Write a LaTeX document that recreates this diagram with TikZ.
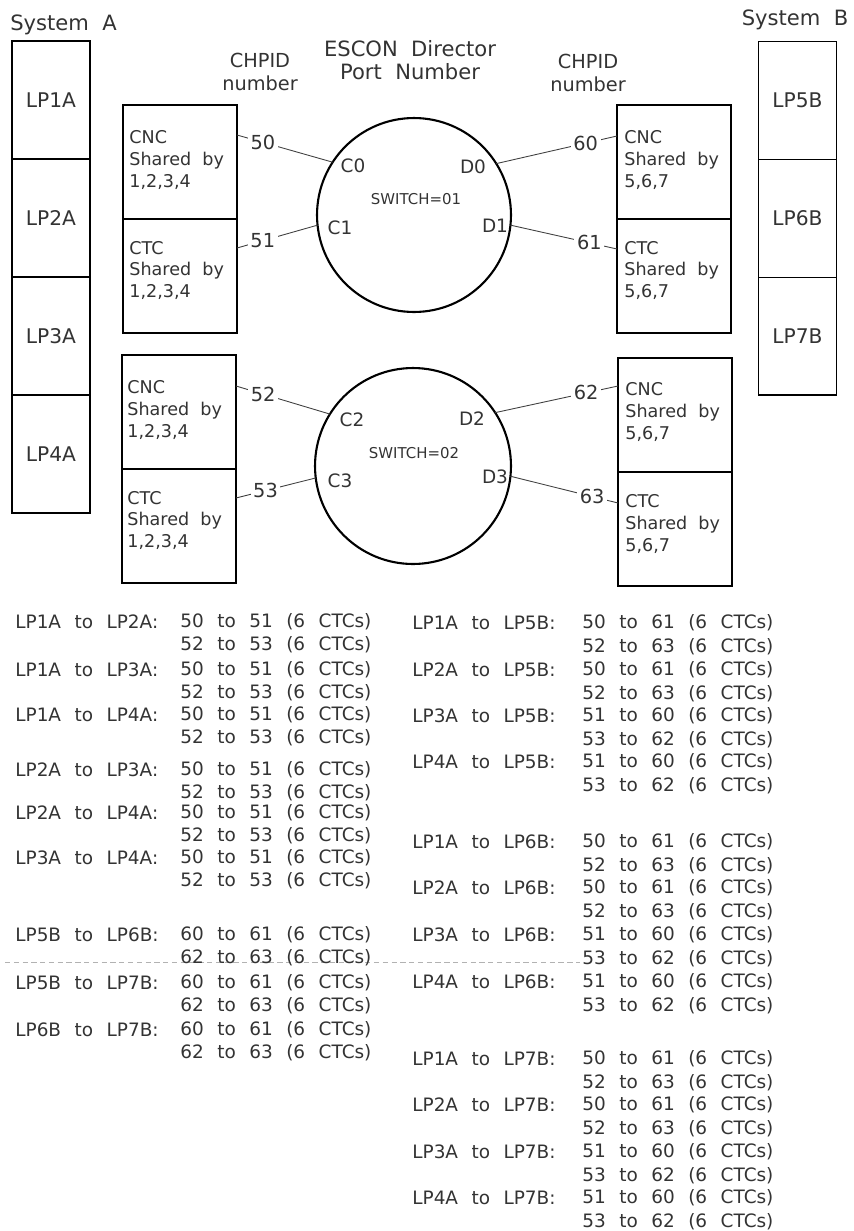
\documentclass[tikz,border=0pt]{standalone}
\usepackage{fontspec}
\setmainfont{DejaVu Sans}[WordSpace=2]
\newfontfamily\listfont{DejaVu Sans}[WordSpace=2.3]
\usetikzlibrary{positioning}

\begin{document}
\begin{tikzpicture}[x=0.02cm, y=-0.02cm,
    every node/.style={text=black!80},
    lpbox/.style={draw=black, line width=1.1pt, minimum width=1.56cm, minimum height=2.36cm, inner sep=0pt, outer sep=0pt, font=\fontsize{11.5}{13}\selectfont},
    chbox/.style={draw=black, line width=1.1pt, minimum width=2.28cm, minimum height=2.28cm, inner sep=0pt, outer sep=0pt},
    boxtxt/.style={align=left, inner sep=0pt, font=\fontsize{10}{12.5}\selectfont},
    hdr/.style={align=center, inner sep=0pt, font=\fontsize{11}{13.5}\selectfont},
    port/.style={inner sep=0pt, font=\fontsize{10.5}{12}\selectfont},
    chpid/.style={fill=white, inner sep=1.5pt, font=\fontsize{11}{12}\selectfont},
    swlbl/.style={inner sep=0pt, font=\fontsize{8.5}{10}\selectfont},
    sw/.style={draw=black, circle, line width=1.2pt, inner sep=0pt, outer sep=0pt},
    link/.style={line width=0.5pt, black!75},
    lst/.style={anchor=west, inner sep=0pt, font=\listfont\fontsize{10.5}{12}\selectfont}
  ]
  \useasboundingbox (0,0) rectangle (853,1231);

  % System A and its partitions
  \node[hdr, anchor=west, font=\fontsize{12}{13}\selectfont] (sysA) at (10,25) {System A};
  \node[lpbox] (LP1A) at (51,100) {LP1A};
  \node[lpbox, below=0pt of LP1A] (LP2A) {LP2A};
  \node[lpbox, below=0pt of LP2A] (LP3A) {LP3A};
  \node[lpbox, below=0pt of LP3A] (LP4A) {LP4A};

  % System B and its partitions
  \node[hdr, font=\fontsize{12}{13}\selectfont] (sysB) at (795,20) {System B};
  \node[lpbox] (LP5B) at (797.5,100.5) {LP5B};
  \node[lpbox, below=0pt of LP5B] (LP6B) {LP6B};
  \node[lpbox, below=0pt of LP6B] (LP7B) {LP7B};

  % column headings
  \node[hdr] (chA) at (260,72) {CHPID\\number};
  \node[hdr, font=\fontsize{12}{13.5}\selectfont] (escon) at (410,60) {ESCON Director\\Port Number};
  \node[hdr] (chB) at (588,73) {CHPID\\number};

  % CHPID boxes, side A
  \node[chbox] (cncA1) at (180,162) {};
  \node[chbox, below=0pt of cncA1] (ctcA1) {};
  \node[chbox] (cncA2) at (179,412) {};
  \node[chbox, below=0pt of cncA2] (ctcA2) {};
  \node[boxtxt, right=0.12cm of cncA1.west, yshift=0.04cm] (tcncA1) {CNC\\Shared by\\1,2,3,4};
  \node[boxtxt, right=0.12cm of ctcA1.west, yshift=0.11cm] (tctcA1) {CTC\\Shared by\\1,2,3,4};
  \node[boxtxt, right=0.1cm of cncA2.west, yshift=0.04cm] (tcncA2) {CNC\\Shared by\\1,2,3,4};
  \node[boxtxt, right=0.1cm of ctcA2.west, yshift=0.11cm] (tctcA2) {CTC\\Shared by\\1,2,3,4};

  % CHPID boxes, side B
  \node[chbox] (cncB1) at (674,162) {};
  \node[chbox, below=0pt of cncB1] (ctcB1) {};
  \node[chbox] (cncB2) at (675,415) {};
  \node[chbox, below=0pt of cncB2] (ctcB2) {};
  \node[boxtxt, right=0.14cm of cncB1.west, yshift=0.04cm] (tcncB1) {CNC\\Shared by\\5,6,7};
  \node[boxtxt, right=0.14cm of ctcB1.west, yshift=0.11cm] (tctcB1) {CTC\\Shared by\\5,6,7};
  \node[boxtxt, right=0.14cm of cncB2.west, yshift=0.06cm] (tcncB2) {CNC\\Shared by\\5,6,7};
  \node[boxtxt, right=0.14cm of ctcB2.west, yshift=0.1cm] (tctcB2) {CTC\\Shared by\\5,6,7};

  % the two switches
  \node[sw, minimum size=3.88cm] (sw1) at (414,215) {};
  \node[swlbl] (sw1lbl) at (416,199) {SWITCH=01};
  \node[sw, minimum size=3.92cm] (sw2) at (413,466) {};
  \node[swlbl] (sw2lbl) at (414,453) {SWITCH=02};

  % port numbers
  \node[port] (C0) at (353,166) {C0};
  \node[port] (C1) at (340,228) {C1};
  \node[port] (C2) at (352,420) {C2};
  \node[port] (C3) at (340,481) {C3};
  \node[port] (D0) at (473,167) {D0};
  \node[port] (D1) at (495,226) {D1};
  \node[port] (D2) at (472,419) {D2};
  \node[port] (D3) at (495,477) {D3};

  % channel ends on the boxes
  \coordinate (e50) at (237,135);
  \coordinate (e51) at (237,248);
  \coordinate (e52) at (236,386);
  \coordinate (e53) at (236,498);
  \coordinate (e60) at (617,136);
  \coordinate (e61) at (617,249);
  \coordinate (e62) at (618,386);
  \coordinate (e63) at (618,503);

  % links
  \draw[link] (e50) -- node[chpid, pos=0.27] (n50) {50} (sw1.147);
  \draw[link] (e51) -- node[chpid, pos=0.32] (n51) {51} (sw1.186);
  \draw[link] (e52) -- node[chpid, pos=0.29] (n52) {52} (sw2.148);
  \draw[link] (e53) -- node[chpid, pos=0.37] (n53) {53} (sw2.187);
  \draw[link] (sw1.32) -- node[chpid, pos=0.74] (n60) {60} (e60);
  \draw[link] (sw1.-6) -- node[chpid, pos=0.74] (n61) {61} (e61);
  \draw[link] (sw2.33) -- node[chpid, pos=0.74] (n62) {62} (e62);
  \draw[link] (sw2.-6) -- node[chpid, pos=0.76] (n63) {63} (e63);

  % faint scan line
  \draw[black!30, line width=0.4pt, dash pattern=on 3pt off 2pt] (5,962) -- (580,962);

  % connection list, left column
  \foreach \y/\pair/\va/\vb in {622/LP1A to LP2A:/50 to 51/52 to 53, 670/LP1A to LP3A:/50 to 51/52 to 53,
      715/LP1A to LP4A:/50 to 51/52 to 53, 770/LP2A to LP3A:/50 to 51/52 to 53,
      813/LP2A to LP4A:/50 to 51/52 to 53, 858/LP3A to LP4A:/50 to 51/52 to 53,
      935/LP5B to LP6B:/60 to 61/62 to 63, 983/LP5B to LP7B:/60 to 61/62 to 63,
      1030/LP6B to LP7B:/60 to 61/62 to 63}
  {
    \node[lst] (la\y) at (15,\y) {\pair};
    \node[lst] (lb\y) at (180,\y) {\va{} (6 CTCs)};
    \node[lst] (lc\y) at (180,\y+23) {\vb{} (6 CTCs)};
  }

  % connection list, right column
  \foreach \y/\pair/\va/\vb in {623/LP1A to LP5B:/50 to 61/52 to 63, 670/LP2A to LP5B:/50 to 61/52 to 63,
      716/LP3A to LP5B:/51 to 60/53 to 62, 762/LP4A to LP5B:/51 to 60/53 to 62,
      842/LP1A to LP6B:/50 to 61/52 to 63, 888/LP2A to LP6B:/50 to 61/52 to 63,
      935/LP3A to LP6B:/51 to 60/53 to 62, 982/LP4A to LP6B:/51 to 60/53 to 62,
      1059/LP1A to LP7B:/50 to 61/52 to 63, 1105/LP2A to LP7B:/50 to 61/52 to 63,
      1152/LP3A to LP7B:/51 to 60/53 to 62, 1198/LP4A to LP7B:/51 to 60/53 to 62}
  {
    \node[lst] (ra\y) at (412,\y) {\pair};
    \node[lst] (rb\y) at (582,\y) {\va{} (6 CTCs)};
    \node[lst] (rc\y) at (582,\y+23.5) {\vb{} (6 CTCs)};
  }
\end{tikzpicture}
\end{document}
